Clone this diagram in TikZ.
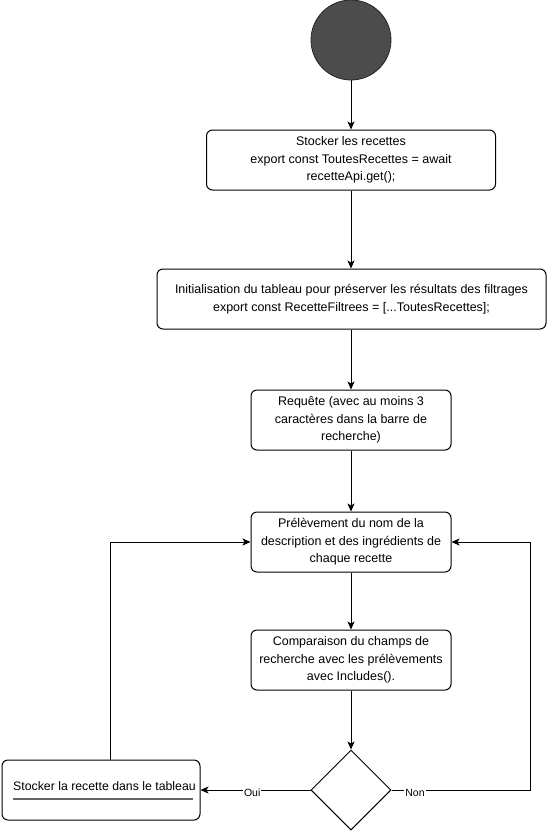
\documentclass[tikz,border=0pt]{standalone}
\usepackage{fontspec}
\setmainfont{Liberation Sans}
\usetikzlibrary{arrows.meta,shapes.geometric}
\begin{document}
\begin{tikzpicture}[x=1pt,y=-1pt]

    \tikzset{
      etape/.style={
        draw,
        line width=1pt,
        rounded corners=6pt,
        inner sep=0pt,
        align=center,
        font=\fontsize{12.5}{17.5}\selectfont,
      },
      fleche/.style={
        line width=1pt,
        -{Stealth[length=8pt,width=7pt,inset=2pt]},
      },
      etiq/.style={
        fill=white,
        inner sep=1pt,
        font=\fontsize{10.5}{12}\selectfont,
      },
    }
    \useasboundingbox (0,0) rectangle (547,831);
    \node[circle,draw=black!85,fill=black!70,line width=0.8pt,minimum size=80pt,inner sep=0pt] (debut) at (351,40) {};

    \node[etape,minimum width=289pt,minimum height=60pt] (stocker) at (351,160) {Stocker les recettes\\export const ToutesRecettes = await\\recetteApi.get();};
    \node[etape,minimum width=389pt,minimum height=60pt] (init) at (351.5,299) {Initialisation du tableau pour préserver les résultats des filtrages\\export const RecetteFiltrees = [...ToutesRecettes];};
    \node[etape,minimum width=200pt,minimum height=60pt] (requete) at (351,420) {Requête (avec au moins 3\\caractères dans la barre de\\recherche)};
    \node[etape,minimum width=200pt,minimum height=60pt] (prelev) at (351,542) {Prélèvement du nom de la\\description et des ingrédients de\\chaque recette};
    \node[etape,minimum width=200pt,minimum height=60pt] (compar) at (351,660) {Comparaison du champs de\\recherche avec les prélèvements\\avec Includes().};
    \node[diamond,draw,line width=1pt,minimum width=80pt,minimum height=80pt,inner sep=0pt] (test) at (351,790) {};

    \node[etape,minimum width=198pt,minimum height=60pt] (ajout) at (101,790) {};
    \node[anchor=west,inner sep=0pt,font=\fontsize{12.3}{15}\selectfont] (ajouttxt) at (13,786) {Stocker la recette dans le tableau};
    \draw[black!60,line width=1.6pt] (13,799) -- (193,799);

    \draw[fleche] (debut) -- (stocker);
    \draw[fleche] (stocker) -- (stocker.south |- init.north);
    \draw[fleche] (init.south -| stocker) -- (requete);
    \draw[fleche] (requete) -- (prelev);
    \draw[fleche] (prelev) -- (compar);
    \draw[fleche] (compar) -- (test);

    % oui : on garde la recette
    \coordinate (retourOui) at (110,760);
    \draw[fleche] (test.west) -- node[etiq,pos=0.53,yshift=-3pt] {Oui} (ajout.east);
    \draw[fleche] (retourOui) |- (prelev.west);

    % non : recette suivante
    \coordinate (retourNon) at (530,790);
    \draw[fleche] (test.east) -- node[etiq,pos=0.17,yshift=-3pt] {Non} (retourNon) |- (prelev.east);

\end{tikzpicture}
\end{document}
